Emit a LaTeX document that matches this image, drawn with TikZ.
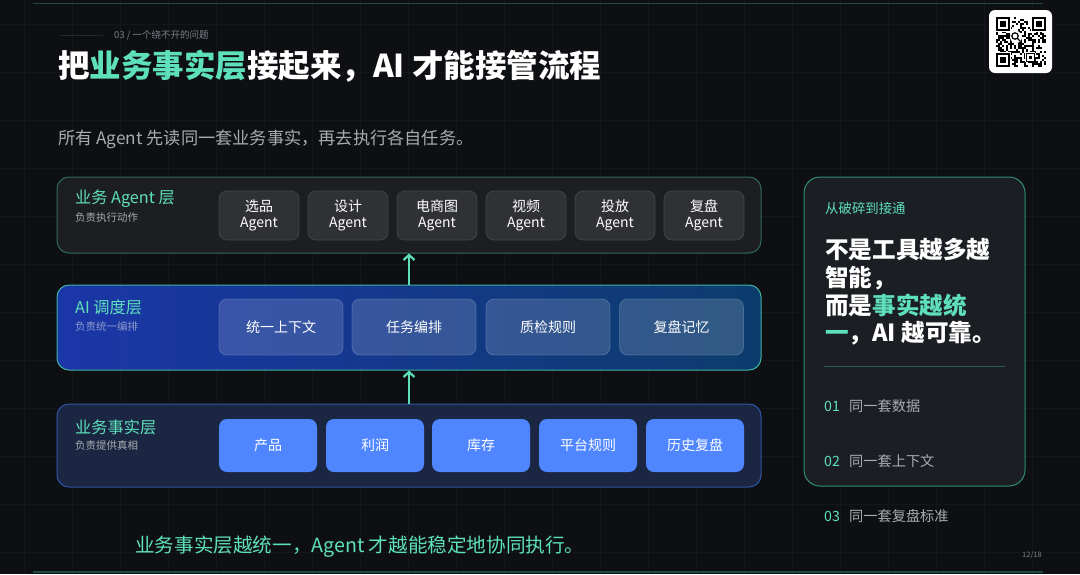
\documentclass[tikz,border=0pt]{standalone}
\usepackage{fontspec}
\setmainfont{Noto Sans CJK SC}
\usetikzlibrary{arrows.meta,calc}
\definecolor{bg}{HTML}{0D0F13}
\definecolor{tealc}{HTML}{5EE0BA}
\definecolor{subgray}{HTML}{A8ABB0}
\definecolor{dimgray}{HTML}{7C8087}
\definecolor{l1fill}{HTML}{1C1E22}
\definecolor{l1draw}{HTML}{2D6B5A}
\definecolor{agfill}{HTML}{2F3135}
\definecolor{agdraw}{HTML}{404348}
\definecolor{aileft}{HTML}{1B36A8}
\definecolor{airight}{HTML}{0C3C6C}
\definecolor{aidraw}{HTML}{3FB3A3}
\definecolor{aisub}{HTML}{8A9ACC}
\definecolor{l3fill}{HTML}{1A2642}
\definecolor{l3draw}{HTML}{2D56A6}
\definecolor{factc}{HTML}{4F86FF}
\definecolor{cardfill}{HTML}{1B1E22}
\definecolor{carddraw}{HTML}{2F8F74}
\definecolor{divc}{HTML}{2B5A50}
\definecolor{gridc}{HTML}{13161B}
\definecolor{edgec}{HTML}{1F4A42}
\definecolor{hdrline}{HTML}{23272E}
\newcommand\myfs[1]{\fontsize{#1}{#1}\selectfont}
\tikzset{
  txt/.style={anchor=west, inner sep=0pt, text=white},
  layerbox/.style={rounded corners=12pt, line width=1pt, minimum width=704pt, inner sep=0pt},
  agentbox/.style={rounded corners=8pt, fill=agfill, draw=agdraw, line width=0.8pt, minimum width=80pt, minimum height=49pt, align=center, text=white, inner sep=0pt, font=\fontsize{14}{16.5}\selectfont},
  aibox/.style={rounded corners=8pt, fill=white, fill opacity=0.15, draw=white, draw opacity=0.18, text opacity=1, line width=0.8pt, minimum width=124pt, minimum height=56pt, text=white, inner sep=0pt, font=\myfs{14}},
  factbox/.style={rounded corners=8pt, fill=factc, minimum width=98pt, minimum height=53pt, text=white, inner sep=0pt, font=\myfs{14}},
  uparrow/.style={draw=tealc, line width=2.2pt, -{Straight Barb[length=5pt,width=11pt]}},
}
\begin{document}
\begin{tikzpicture}[x=1pt,y=-1pt]
\useasboundingbox (0,0) rectangle (1080,574);
\fill[bg] (0,0) rectangle (1080,574);
% faint grid
\foreach \gx in {24,72,...,1080} \draw[gridc, line width=0.6pt] (\gx,0) -- (\gx,574);
\foreach \gy in {24,72,...,574} \draw[gridc, line width=0.6pt] (0,\gy) -- (1080,\gy);
% edge lines
\draw[edgec, line width=1pt] (33,3) -- (1043,3);
\draw[edgec, line width=1.5pt] (33,572) -- (1043,572);

% header
\draw[hdrline, line width=0.8pt] (60,35) -- (103,35);
\node[txt, text=dimgray, font=\myfs{9.5}] (hdr) at (114,35) {03 / 一个绕不开的问题};
\node[txt, font=\bfseries\myfs{31.5}] (title) at (58,66) {把\textcolor{tealc}{业务事实层}接起来，AI 才能接管流程};
\node[txt, text=subgray, font=\myfs{17.2}] (subtitle) at (58,139) {所有 Agent 先读同一套业务事实，再去执行各自任务。};

% QR code
\fill[white, rounded corners=6pt] (989,10) rectangle (1052,73);
\begin{scope}[black]
  \pgfmathsetseed{11}
  \foreach \i in {0,...,24} {
    \foreach \j in {0,...,24} {
      \pgfmathsetmacro\r{rnd}
      \ifdim\r pt<0.45pt
        \fill (996+\i*2,17+\j*2) rectangle ++(2,2);
      \fi
    }
  }
  \foreach \cx/\cy in {996/17,1032/17,996/53} {
    \fill[white] (\cx-1,\cy-1) rectangle ++(16,16);
    \fill (\cx,\cy) rectangle ++(14,14);
    \fill[white] (\cx+2,\cy+2) rectangle ++(10,10);
    \fill (\cx+4,\cy+4) rectangle ++(6,6);
  }
  \fill[white] (1016,37) circle (6);
  \draw[line width=1.2pt] (1015,36) circle (3.2) (1017.3,38.3) -- (1020,41);
  \fill[white] (1025,52) rectangle ++(10,10);
  \draw[line width=1pt] (1026,53) rectangle ++(8,8);
  \fill (1028.5,55.5) rectangle ++(3,3);
\end{scope}

% layer 1: Agent layer
\node[layerbox, fill=l1fill, draw=l1draw, minimum height=76pt] (L1) at (409,215) {};
\node[txt, text=tealc, font=\myfs{16.2}] (L1t) at (75,199) {业务 Agent 层};
\node[txt, text=subgray, font=\myfs{10.5}] (L1s) at (75,217.5) {负责执行动作};
\node[agentbox] (a1) at (259,215.5) {选品\\Agent};
\node[agentbox] (a2) at (348,215.5) {设计\\Agent};
\node[agentbox] (a3) at (437,215.5) {电商图\\Agent};
\node[agentbox] (a4) at (526,215.5) {视频\\Agent};
\node[agentbox] (a5) at (615,215.5) {投放\\Agent};
\node[agentbox] (a6) at (704,215.5) {复盘\\Agent};

% layer 2: AI layer
\shade[left color=aileft, right color=airight, rounded corners=12pt] (57,285) rectangle (761,370);
\node[layerbox, draw=aidraw, minimum height=85pt] (L2) at (409,327.5) {};
\node[txt, text=tealc, font=\myfs{16.2}] (L2t) at (75,307) {AI 调度层};
\node[txt, text=aisub, font=\myfs{10.5}] (L2s) at (75,326) {负责统一编排};
\node[aibox] (b1) at (281,327) {统一上下文};
\node[aibox] (b2) at (414,327) {任务编排};
\node[aibox] (b3) at (548,327) {质检规则};
\node[aibox] (b4) at (681.5,327) {复盘记忆};

% layer 3: facts layer
\node[layerbox, fill=l3fill, draw=l3draw, minimum height=83pt] (L3) at (409,445.5) {};
\node[txt, text=tealc, font=\myfs{16.2}] (L3t) at (75,427) {业务事实层};
\node[txt, text=subgray, font=\myfs{10.5}] (L3s) at (75,446) {负责提供真相};
\node[factbox] (f1) at (268,445.5) {产品};
\node[factbox] (f2) at (375,445.5) {利润};
\node[factbox] (f3) at (481,445.5) {库存};
\node[factbox] (f4) at (588,445.5) {平台规则};
\node[factbox] (f5) at (695,445.5) {历史复盘};

% arrows
\draw[uparrow] (L3.north) -- (L2.south);
\draw[uparrow] (L2.north) -- (L1.south);

% bottom line text
\node[txt, text=tealc, font=\myfs{19.6}] (bottom) at (135,547) {业务事实层越统一，Agent 才越能稳定地协同执行。};

% right card
\node[rounded corners=16pt, fill=cardfill, draw=carddraw, line width=1pt, minimum width=221pt, minimum height=309pt, inner sep=0pt] (card) at (914.5,331.5) {};
\node[txt, text=tealc, font=\myfs{13.4}] (c0) at (825,208) {从破碎到接通};
\node[txt, font=\bfseries\myfs{23.6}] (c1) at (825,250) {不是工具越多越};
\node[txt, font=\bfseries\myfs{23.6}] (c2) at (825,278) {智能，};
\node[txt, font=\bfseries\myfs{23.6}] (c3) at (825,305) {而是\textcolor{tealc}{事实越统}};
\node[txt, font=\bfseries\myfs{23.6}] (c4) at (825,333) {\textcolor{tealc}{一}，AI 越可靠。};
\coordinate (dl) at (824,366);
\coordinate (dr) at (1005,366);
\draw[divc, line width=0.8pt] (dl) -- (dr);
\node[txt, text=tealc, font=\myfs{14.2}] (n1) at (824,406) {01};
\node[txt, text=subgray, font=\myfs{14.2}] (t1) at (849,406) {同一套数据};
\node[txt, text=tealc, font=\myfs{14.2}] (n2) at (824,461) {02};
\node[txt, text=subgray, font=\myfs{14.2}] (t2) at (849,461) {同一套上下文};
\node[txt, text=tealc, font=\myfs{14.2}] (n3) at (824,516) {03};
\node[txt, text=subgray, font=\myfs{14.2}] (t3) at (849,516) {同一套复盘标准};
\node[txt, text=dimgray, font=\myfs{7.5}] (pg) at (1022,555) {12/18};
\end{tikzpicture}
\end{document}
